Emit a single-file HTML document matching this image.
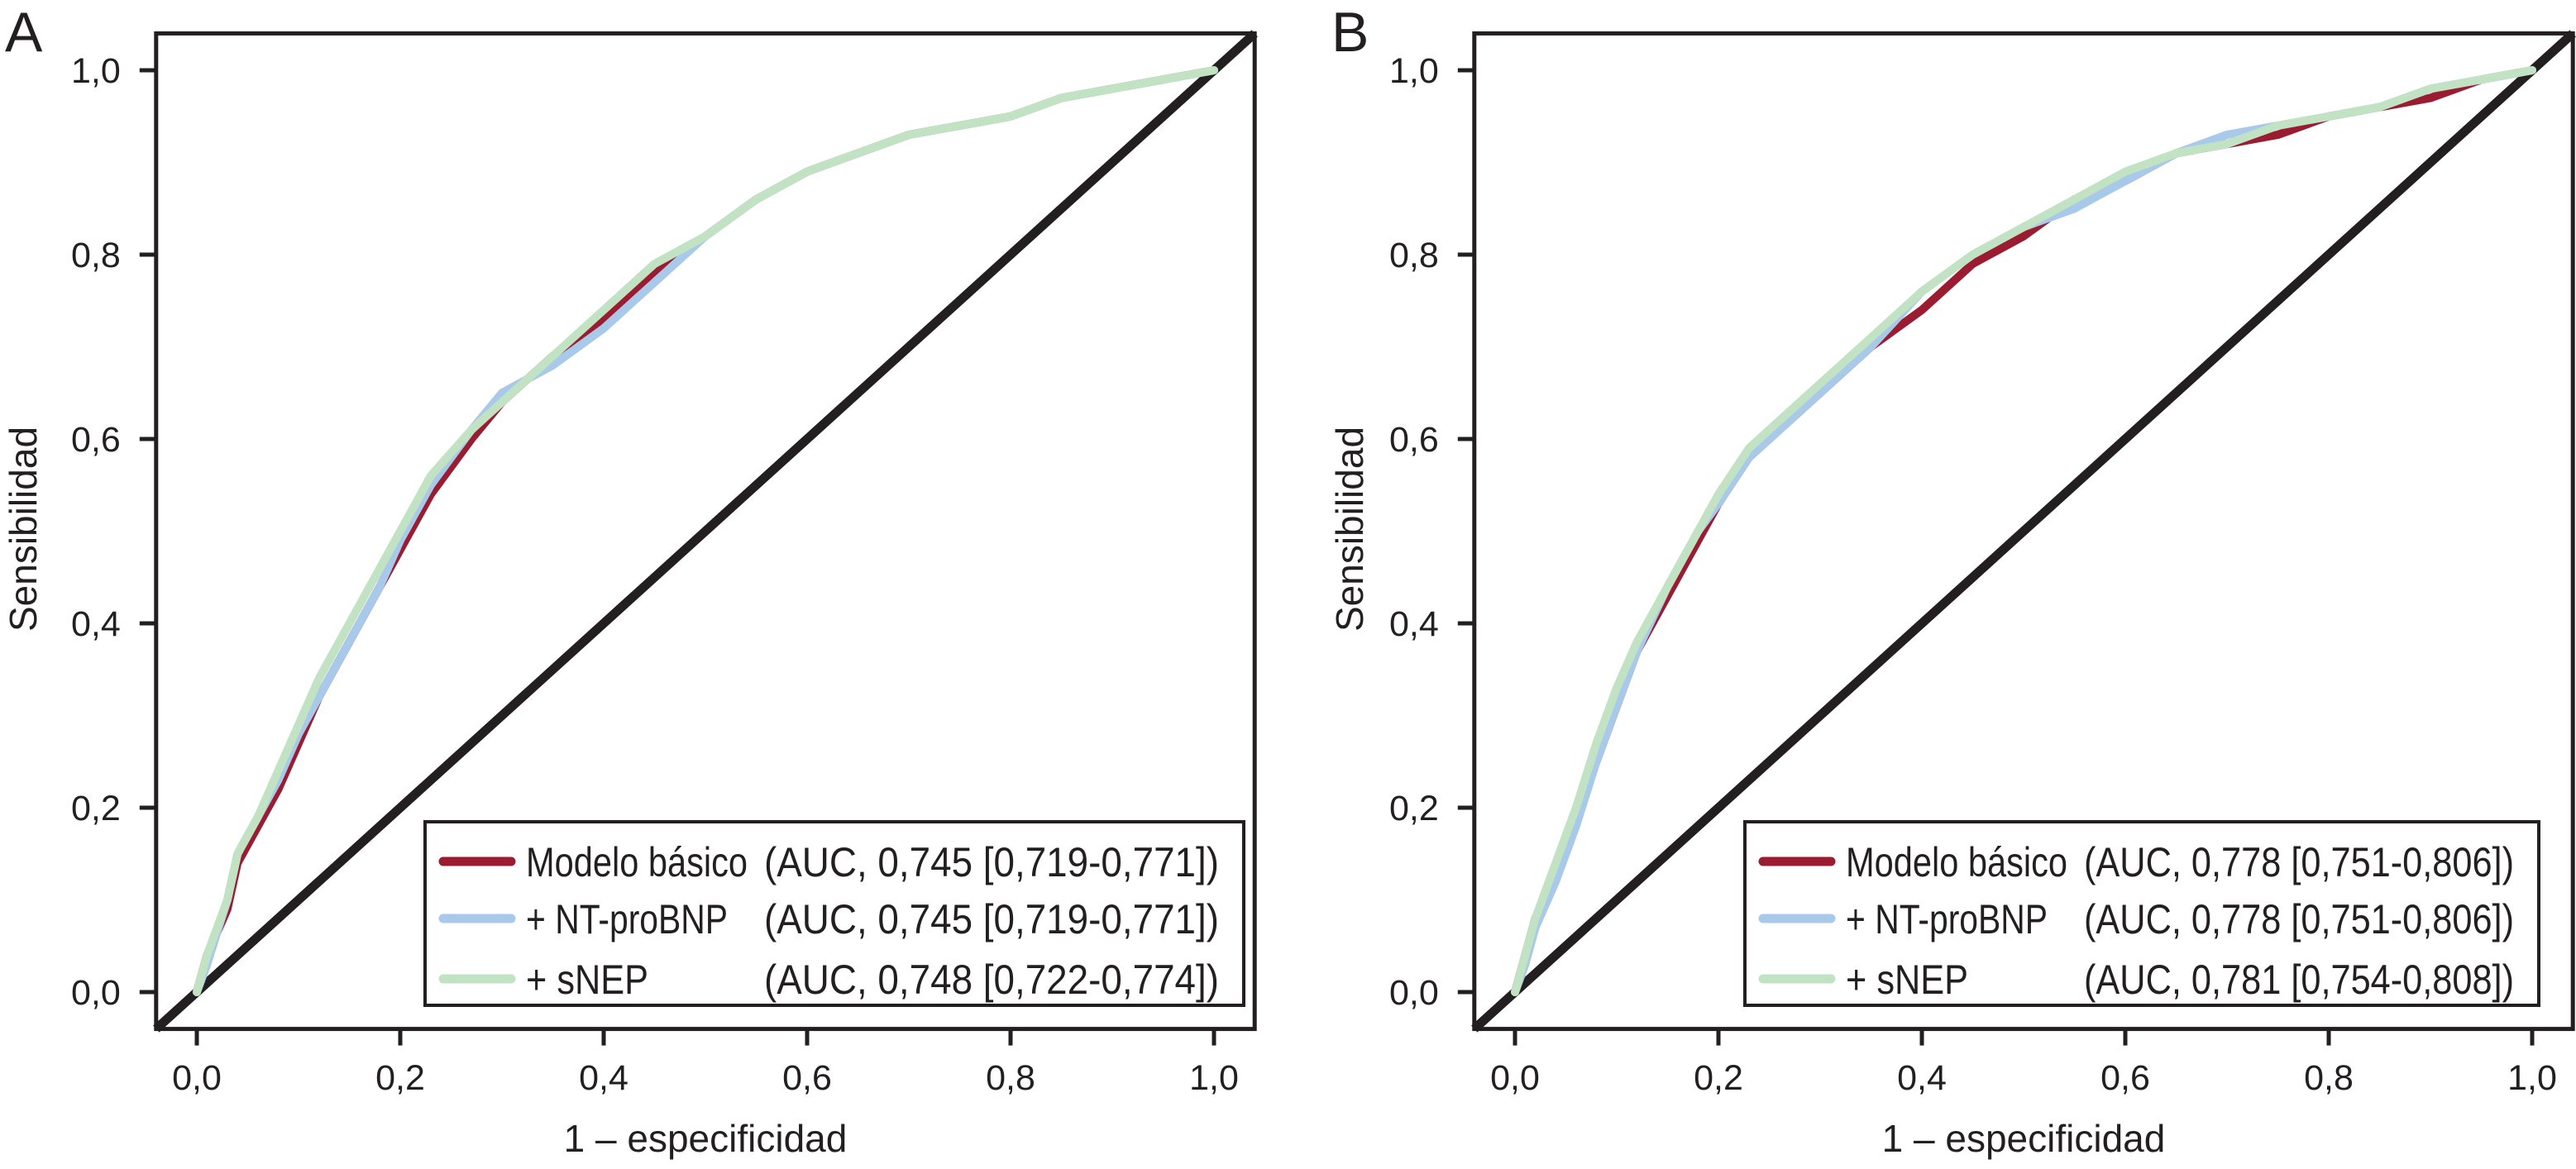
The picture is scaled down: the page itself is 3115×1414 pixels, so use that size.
<!DOCTYPE html>
<html><head><meta charset="utf-8"><style>
html,body{margin:0;padding:0;background:#fff;}
svg{display:block;font-family:"Liberation Sans",Arial,sans-serif;}
.leg{font-family:"Liberation Sans Narrow","Liberation Sans",sans-serif;font-size:50px;fill:#231f20;}
</style></head><body>
<svg id="chart" width="3115" height="1414" viewBox="0 0 3115 1414" xmlns="http://www.w3.org/2000/svg"></svg>
<script>
// ---- Data ----
const tickValues = [0, 0.2, 0.4, 0.6, 0.8, 1.0];
const tickLabels = ["0,0", "0,2", "0,4", "0,6", "0,8", "1,0"];
const seriesNames = ["Modelo básico", "+ NT-proBNP", "+ sNEP"];
const aucLabelsA = ["(AUC, 0,745 [0,719-0,771])", "(AUC, 0,745 [0,719-0,771])", "(AUC, 0,748 [0,722-0,774])"];
const aucLabelsB = ["(AUC, 0,778 [0,751-0,806])", "(AUC, 0,778 [0,751-0,806])", "(AUC, 0,781 [0,754-0,808])"];

const fprA = [0,0.01,0.03,0.04,0.06,0.08,0.10,0.12,0.15,0.18,0.20,0.23,0.27,0.30,0.35,0.40,0.45,0.50,0.55,0.60,0.65,0.70,0.75,0.80,0.85,0.90,0.95,1.0];
const tprA_basic = [0,0.04,0.09,0.14,0.18,0.22,0.27,0.32,0.38,0.44,0.48,0.54,0.60,0.64,0.69,0.73,0.78,0.82,0.86,0.89,0.91,0.93,0.94,0.95,0.97,0.98,0.99,1.0];
const tprA_ntpro = [0,0.03,0.10,0.15,0.19,0.23,0.28,0.32,0.38,0.44,0.49,0.55,0.61,0.65,0.68,0.72,0.77,0.82,0.86,0.89,0.91,0.93,0.94,0.95,0.97,0.98,0.99,1.0];
const tprA_snep = [0,0.04,0.10,0.15,0.19,0.24,0.29,0.34,0.40,0.46,0.50,0.56,0.61,0.64,0.69,0.74,0.79,0.82,0.86,0.89,0.91,0.93,0.94,0.95,0.97,0.98,0.99,1.0];

const fprB = [0,0.01,0.02,0.04,0.06,0.08,0.10,0.12,0.15,0.18,0.20,0.23,0.27,0.30,0.35,0.40,0.45,0.50,0.55,0.60,0.65,0.70,0.75,0.80,0.85,0.90,0.95,1.0];
const tprB_basic = [0,0.04,0.08,0.13,0.19,0.25,0.31,0.37,0.43,0.49,0.53,0.58,0.62,0.65,0.70,0.74,0.79,0.82,0.86,0.88,0.91,0.92,0.93,0.95,0.96,0.97,0.99,1.0];
const tprB_ntpro = [0,0.03,0.07,0.12,0.18,0.25,0.31,0.37,0.44,0.50,0.53,0.58,0.62,0.65,0.70,0.76,0.80,0.83,0.85,0.88,0.91,0.93,0.94,0.95,0.96,0.98,0.99,1.0];
const tprB_snep = [0,0.04,0.08,0.14,0.20,0.27,0.33,0.38,0.44,0.50,0.54,0.59,0.63,0.66,0.71,0.76,0.80,0.83,0.86,0.89,0.91,0.92,0.94,0.95,0.96,0.98,0.99,1.0];

const colors = ["#9b1b30", "#a9c9ea", "#c2e3c3"];
const nameWidths = [268, 244, 148];
const NS = "http://www.w3.org/2000/svg";
const svg = document.getElementById("chart");

function mk(tag, attrs, parent) {
  const e = document.createElementNS(NS, tag);
  for (const k in attrs) e.setAttribute(k, attrs[k]);
  (parent || svg).appendChild(e);
  return e;
}

function panel(cfg) {
  const g = mk("g", {});
  
  
  const x0 = cfg.x0, ux = 1230, y0 = 1200, uy = 1115;
  const sx = v => x0 + v * ux;
  const sy = v => y0 - v * uy;
  const L = sx(-0.04), R = sx(1.04), T = sy(1.04), B = sy(-0.04);

  const letter = mk("text", {x: cfg.letterX, y: 62, "font-size": 68, fill: "#231f20"}, g);
  letter.textContent = cfg.letter;
  
  

  tickValues.forEach((v, i) => {
    const xt = mk("line", {x1: sx(v), x2: sx(v), y1: B, y2: B + 20, stroke: "#231f20", "stroke-width": 5}, g);
    
    
    const xl = mk("text", {x: sx(v), y: 1318, "font-size": 43, "text-anchor": "middle", fill: "#231f20"}, g);
    xl.textContent = tickLabels[i];
    
    
    const yt = mk("line", {x1: L - 20, x2: L, y1: sy(v), y2: sy(v), stroke: "#231f20", "stroke-width": 5}, g);
    
    
    const yl = mk("text", {x: L - 43, y: sy(v) + 15, "font-size": 43, "text-anchor": "end", fill: "#231f20"}, g);
    yl.textContent = tickLabels[i];
    
    
  });

  const diag = mk("line", {x1: sx(-0.04), y1: sy(-0.04), x2: sx(1.04), y2: sy(1.04), stroke: "#231f20", "stroke-width": 11}, g);
  
  

  cfg.series.forEach((tpr, si) => {
    const pts = cfg.fpr.map((f, i) => sx(f).toFixed(1) + "," + sy(tpr[i]).toFixed(1)).join(" ");
    const pl = mk("polyline", {points: pts, fill: "none", stroke: colors[si], "stroke-width": 10, "stroke-linejoin": "round", "stroke-linecap": "round"}, g);
    
    
  });

  const frame = mk("rect", {x: L, y: T, width: R - L, height: B - T, fill: "none", stroke: "#231f20", "stroke-width": 5}, g);
  
  

  const xt = mk("text", {x: (L + R) / 2, y: 1393, "font-size": 46, "text-anchor": "middle", fill: "#231f20"}, g);
  xt.textContent = "1 – especificidad";
  
  
  const yx = cfg.letterX + 22;
  const yt = mk("text", {x: 0, y: 0, "font-size": 46, "text-anchor": "middle", fill: "#231f20", transform: "translate(" + (yx + 16) + ",640) rotate(-90)"}, g);
  yt.textContent = "Sensibilidad";
  
  

  const lg = mk("g", {}, g);
  
  
  const lb = mk("rect", {x: cfg.legX, y: 994, width: cfg.legW, height: 222, fill: "#fff", stroke: "#231f20", "stroke-width": 4}, lg);
  
  
  const rows = [1042, 1111, 1184];
  seriesNames.forEach((n, i) => {
    const sw = mk("line", {x1: cfg.legX + 22, x2: cfg.legX + 104, y1: rows[i], y2: rows[i], stroke: colors[i], "stroke-width": 11, "stroke-linecap": "round"}, lg);
    
    
    const t1 = mk("text", {x: cfg.legX + 122, y: rows[i] + 18, "class": "leg", textLength: nameWidths[i], lengthAdjust: "spacingAndGlyphs"}, lg);
    t1.textContent = n;
    
    
    const t2 = mk("text", {x: cfg.legX + 410, y: rows[i] + 18, "class": "leg", textLength: cfg.legW - 440, lengthAdjust: "spacingAndGlyphs"}, lg);
    t2.textContent = cfg.auc[i];
    
    
  });
}

panel({id: "a", letter: "A", letterX: 6, x0: 238, legX: 514, legW: 990,
  fpr: fprA, series: [tprA_basic, tprA_ntpro, tprA_snep], auc: aucLabelsA});
panel({id: "b", letter: "B", letterX: 1610, x0: 1832, legX: 2110, legW: 960,
  fpr: fprB, series: [tprB_basic, tprB_ntpro, tprB_snep], auc: aucLabelsB});
</script>
</body></html>
